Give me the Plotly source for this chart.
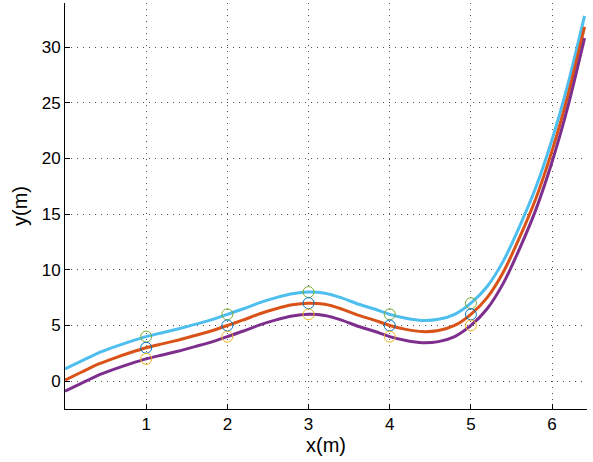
import plotly.graph_objects as go

# curve samples
x_pts = [0.0, 0.2, 0.4, 0.6, 0.8, 1.0, 1.2, 1.4, 1.6, 1.8, 2.0, 2.2, 2.4, 2.6, 2.8, 3.0,
         3.2, 3.4, 3.6, 3.8, 4.0, 4.2, 4.4, 4.6, 4.8, 5.0, 5.2, 5.4, 5.6, 5.8, 6.0, 6.2, 6.4]
y_top = [1.1, 1.8, 2.5, 3.05, 3.55, 4.0, 4.35, 4.7, 5.1, 5.5, 6.0, 6.5, 7.05, 7.5, 7.85, 8.0,
         7.9, 7.5, 6.95, 6.5, 6.0, 5.65, 5.45, 5.55, 6.0, 7.0, 8.5, 10.8, 13.9, 17.4, 21.7, 26.8, 32.8]
y_mid = [0.1, 0.8, 1.5, 2.05, 2.55, 3.0, 3.35, 3.7, 4.1, 4.5, 5.0, 5.5, 6.05, 6.5, 6.85, 7.0,
         6.9, 6.5, 5.95, 5.5, 5.0, 4.65, 4.45, 4.55, 5.0, 6.0, 7.5, 9.8, 12.9, 16.4, 20.7, 25.8, 31.8]
y_bot = [-0.9, -0.2, 0.5, 1.05, 1.55, 2.0, 2.35, 2.7, 3.1, 3.5, 4.0, 4.5, 5.05, 5.5, 5.85, 6.0,
         5.9, 5.5, 4.95, 4.5, 4.0, 3.65, 3.45, 3.55, 4.0, 5.0, 6.5, 8.8, 11.9, 15.4, 19.7, 24.8, 30.8]

# measured points
pt_x = [1, 2, 3, 4, 5]
pt_green = [4, 6, 8, 6, 7]
pt_blue = [3, 5, 7, 5, 6]
pt_yellow = [2, 4, 6, 4, 5]

x_ticks = [1, 2, 3, 4, 5, 6]
y_ticks = [0, 5, 10, 15, 20, 25, 30]

fig = go.Figure()
for ys, col in [(y_top, "#4DBEEE"), (y_mid, "#D95319"), (y_bot, "#7E2F8E")]:
    fig.add_trace(go.Scatter(x=x_pts, y=ys, mode="lines",
                             line=dict(color=col, width=3, shape="spline", smoothing=0.6),
                             showlegend=False, hoverinfo="skip"))
for ys, col in [(pt_green, "#77AC30"), (pt_blue, "#0072BD"), (pt_yellow, "#EDB120")]:
    fig.add_trace(go.Scatter(x=pt_x, y=ys, mode="markers",
                             marker=dict(symbol="circle-open", size=11, color=col,
                                         line=dict(width=1, color=col)),
                             showlegend=False))

font = dict(family="Liberation Sans, Arial, sans-serif", size=17, color="black")
fig.update_layout(
    width=593, height=462,
    margin=dict(l=65, r=6, t=3, b=53),
    paper_bgcolor="white", plot_bgcolor="white",
    font=font,
    xaxis=dict(range=[0, 6.43], tickvals=x_ticks, ticks="inside", ticklen=5,
               tickcolor="black", showline=True, linecolor="black", linewidth=1,
               showgrid=True, gridcolor="#555", gridwidth=1, griddash="1px,5px",
               zeroline=False, title=dict(text="x(m)", standoff=4), tickfont=font),
    yaxis=dict(range=[-2.5, 33.95], tickvals=y_ticks, ticks="inside", ticklen=5,
               tickcolor="black", showline=True, linecolor="black", linewidth=1,
               showgrid=True, gridcolor="#555", gridwidth=1, griddash="1px,5px",
               zeroline=False, title=dict(text="y(m)", standoff=8), tickfont=font),
)
fig.write_html("out.html")
